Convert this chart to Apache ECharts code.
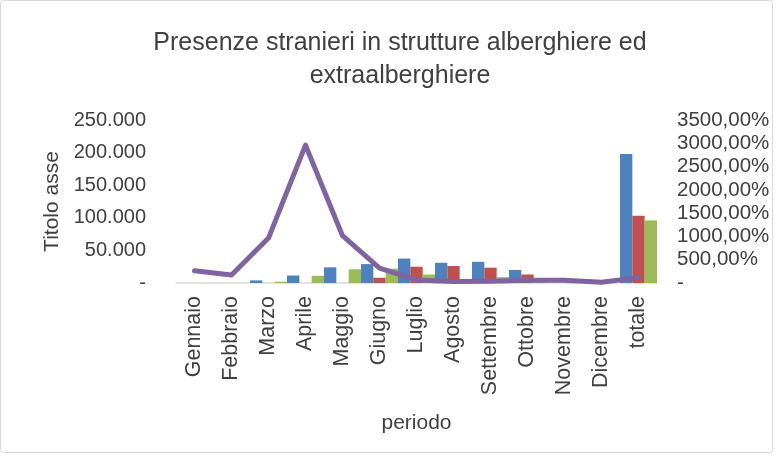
<!DOCTYPE html>
<html><head><meta charset="utf-8">
<script src="https://cdn.jsdelivr.net/npm/echarts@6/dist/echarts.min.js"></script>
<style>html,body{margin:0;padding:0;background:#fff}#c{width:777px;height:458px}</style>
</head><body><div id="c"></div>
<script>
var categories = ['Gennaio','Febbraio','Marzo','Aprile','Maggio','Giugno','Luglio','Agosto','Settembre','Ottobre','Novembre','Dicembre','totale'];
var serieBlu = [0, 0, 4000, 11500, 24000, 29000, 37500, 31000, 32500, 20000, 0, 0, 198000];
var serieRossa = [0, 0, 0, 0, 0, 8000, 25000, 26000, 23500, 13000, 0, 0, 103000];
var serieVerde = [0, 0, 2000, 11000, 21000, 22000, 13000, 4000, 9000, 1500, 0, 0, 96000];
var variazione = [265, 170, 965, 2960, 1015, 317, 65, 30, 40, 60, 60, 15, 115];
var leftTicks = {min: 0, max: 250000, interval: 50000};
var rightTicks = {min: 0, max: 3500, interval: 500};

var FONT = '"Liberation Sans", Arial, sans-serif';
var TXT = '#404040';
function fmtLeft(v){ if (v === 0) return '-'; return String(v).replace(/\B(?=(\d{3})+(?!\d))/g, '.'); }
function fmtRight(v){ if (v === 0) return '-'; return v + ',00%'; }

var chart = echarts.init(document.getElementById('c'), null, {renderer: 'canvas'});
chart.setOption({
  animation: false,
  backgroundColor: '#fff',
  title: {
    text: 'Presenze stranieri in strutture alberghiere ed\nextraalberghiere',
    left: 395, top: 22, textAlign: 'center',
    textStyle: {fontFamily: FONT, fontSize: 25, fontWeight: 'normal', color: TXT, lineHeight: 33}
  },
  graphic: [{type: 'rect', shape: {x: 0.5, y: 0.5, width: 772, height: 452, r: 3}, style: {fill: null, stroke: '#d9d9d9', lineWidth: 1}, silent: true}],
  grid: {left: 176, right: 120, top: 120, bottom: 175},
  xAxis: {
    type: 'category', data: categories,
    name: 'periodo', nameLocation: 'middle', nameGap: 130,
    nameTextStyle: {fontFamily: FONT, fontSize: 21, color: TXT},
    axisLine: {lineStyle: {color: '#d9d9d9', width: 1.5}},
    axisTick: {show: false},
    axisLabel: {rotate: 90, fontFamily: FONT, fontSize: 21.5, color: TXT, margin: 13, interval: 0}
  },
  yAxis: [{
    type: 'value', min: leftTicks.min, max: leftTicks.max, interval: leftTicks.interval,
    name: 'Titolo asse', nameLocation: 'middle', nameGap: 112, nameRotate: 90,
    nameTextStyle: {fontFamily: FONT, fontSize: 21, color: TXT},
    axisLine: {show: false}, axisTick: {show: false}, splitLine: {show: false},
    axisLabel: {formatter: fmtLeft, fontFamily: FONT, fontSize: 20, color: TXT, margin: 30}
  }, {
    type: 'value', min: rightTicks.min, max: rightTicks.max, interval: rightTicks.interval,
    position: 'right',
    axisLine: {show: false}, axisTick: {show: false}, splitLine: {show: false},
    axisLabel: {formatter: fmtRight, fontFamily: FONT, fontSize: 20.5, color: TXT, margin: 20}
  }],
  series: [
    {type: 'bar', data: serieBlu, yAxisIndex: 0, barGap: '0%', barCategoryGap: '0%', itemStyle: {color: '#4F81BD'}},
    {type: 'bar', data: serieRossa, yAxisIndex: 0, barGap: '0%', barCategoryGap: '0%', itemStyle: {color: '#C0504D'}},
    {type: 'bar', data: serieVerde, yAxisIndex: 0, barGap: '0%', barCategoryGap: '0%', itemStyle: {color: '#9BBB59'}},
    {type: 'line', data: variazione, yAxisIndex: 1, symbol: 'none', z: 5, lineStyle: {color: '#8064A2', width: 5, cap: 'round', join: 'round'}}
  ]
});
</script></body></html>
